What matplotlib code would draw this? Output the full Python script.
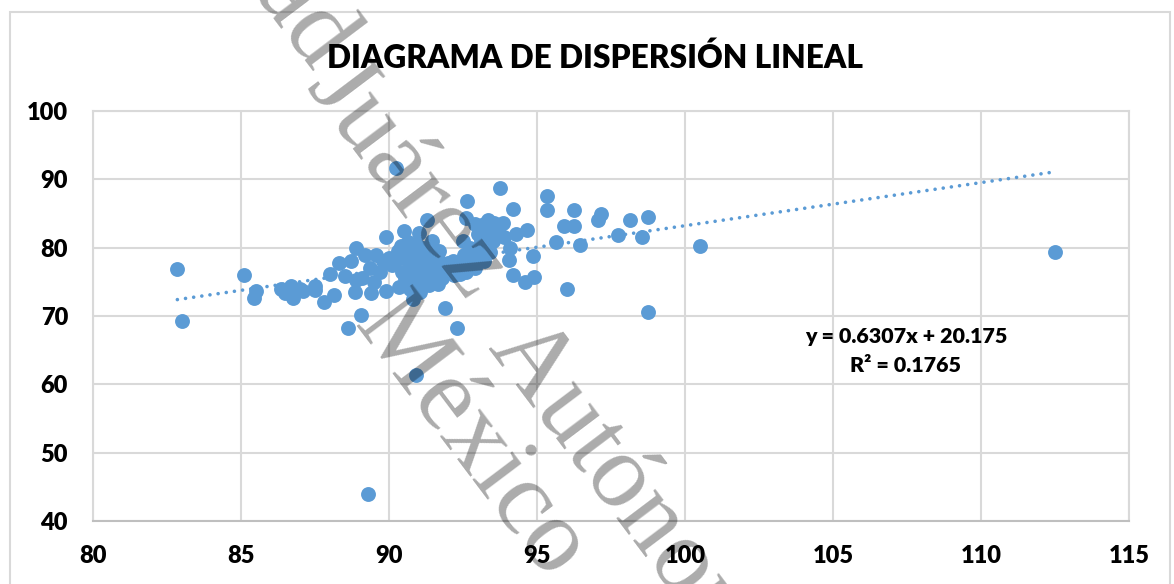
import matplotlib
matplotlib.use('Agg')
import matplotlib.pyplot as plt
from matplotlib.patches import Rectangle

# values
x_vals = [82.85, 83.0, 85.1, 85.45, 85.5, 86.35, 86.5, 86.7, 86.75, 87.0, 87.1, 87.5, 87.5, 87.8, 88.0, 88.15,
          88.3, 88.5, 88.6, 88.7, 88.9, 88.85, 88.9, 89.05, 89.1, 89.2, 89.3, 89.35, 89.4, 89.5, 89.55, 89.7,
          89.8, 89.9, 89.9, 90.0, 90.1, 90.25, 90.3, 90.35, 90.4, 90.45, 90.5, 90.55, 90.6, 90.65, 90.7, 90.75,
          90.8, 90.85, 90.9, 90.9, 90.95, 91.0, 91.0, 91.05, 91.1, 91.15, 91.2, 91.25, 91.3, 91.3, 91.35, 91.4,
          91.45, 91.5, 91.55, 91.6, 91.65, 91.7, 91.8, 91.9, 92.0, 92.05, 92.15, 92.3, 92.4, 92.5, 92.55, 92.6,
          92.65, 92.7, 92.75, 92.85, 92.9, 93.0, 93.05, 93.1, 93.2, 93.25, 93.35, 93.4, 93.45, 93.5, 93.55, 93.75,
          93.6, 93.7, 93.85, 93.9,
          94.05, 94.1, 94.2, 94.2, 94.3, 94.65, 94.6, 94.85, 94.9, 95.35, 95.35, 95.65, 95.9, 96.0, 96.25, 96.25,
          96.45, 97.05, 97.15, 97.75, 98.15, 98.55, 98.75, 98.75, 100.5, 112.5,
          90.2, 90.5, 90.8, 91.1, 91.4, 91.7, 92.0, 92.3, 92.6, 92.9, 93.2, 90.6, 91.0, 91.4, 91.8, 92.2, 92.6, 93.0]
y_vals = [76.9, 69.2, 76.0, 72.7, 73.6, 73.9, 73.3, 74.4, 72.6, 74.0, 73.6, 74.4, 73.8, 72.1, 76.1, 73.0,
          77.7, 75.8, 68.2, 78.0, 79.9, 73.5, 75.3, 70.2, 75.6, 79.0, 43.9, 77.0, 73.3, 75.0, 78.9, 76.5,
          78.0, 81.6, 73.7, 78.5, 77.5, 91.6, 79.5, 74.2, 80.2, 76.5, 82.5, 75.5, 79.0, 80.8, 74.0, 78.0,
          72.5, 77.0, 61.3, 80.5, 75.0, 82.2, 78.5, 73.5, 76.0, 80.0, 77.5, 75.0, 84.0, 78.5, 74.5, 76.5,
          81.0, 79.0, 75.5, 77.5, 74.7, 78.0, 76.2, 71.2, 77.7, 76.5, 78.0, 68.3, 76.2, 81.0, 79.0, 84.4,
          86.9, 77.5, 80.0, 78.3, 83.5, 82.0, 79.5, 81.0, 83.4, 82.5, 84.0, 79.3, 82.0, 81.0, 83.6, 88.7,
          83.2, 82.0, 83.6, 81.5,
          78.2, 79.9, 76.0, 85.7, 82.0, 82.6, 75.0, 78.8, 75.7, 87.6, 85.5, 80.8, 83.1, 74.0, 85.5, 83.2,
          80.4, 84.0, 84.9, 81.8, 84.0, 81.5, 84.5, 70.6, 80.2, 79.4,
          78.0, 78.5, 79.0, 79.0, 78.0, 79.5, 77.0, 76.8, 77.5, 77.0, 78.0, 76.0, 76.0, 75.8, 75.5, 76.0, 76.5, 78.5]
trend_x = [82.85, 112.5]
trend_y = [72.4, 91.1]
x_ticks = [80, 85, 90, 95, 100, 105, 110, 115]
y_ticks = [40, 50, 60, 70, 80, 90, 100]

blue = '#5b9bd5'
plt.rcParams['font.family'] = ['Lato', 'DejaVu Sans']

fig = plt.figure(figsize=(11.74, 5.84), dpi=100)
ax = fig.add_axes([93 / 1174, 1 - 521 / 584, (1129 - 93) / 1174, (521 - 111) / 584])

# outer chart border
fig.patches.append(Rectangle((10 / 1174, -0.05), 1160 / 1174, 1.05 - 12 / 584, transform=fig.transFigure,
                             fill=False, edgecolor='#d9d9d9', linewidth=1.5))

ax.scatter(x_vals, y_vals, s=115, color=blue, linewidths=0, zorder=3)
ax.plot(trend_x, trend_y, color=blue, linewidth=2.6, linestyle=(0, (0.01, 2.27)),
        dash_capstyle='round', zorder=3)

ax.set_xlim(80, 115)
ax.set_ylim(40, 100)
ax.set_xticks(x_ticks)
ax.set_yticks(y_ticks)
ax.grid(True, color='#d9d9d9', linewidth=1.5)
ax.set_axisbelow(True)
for side in ['top', 'left', 'right']:
    ax.spines[side].set_color('#d9d9d9')
    ax.spines[side].set_linewidth(1.5)
ax.spines['bottom'].set_color('#bfbfbf')
ax.spines['bottom'].set_linewidth(1.5)
ax.tick_params(length=0, labelsize=17, pad=17)
ax.tick_params(axis='y', pad=18)
for lab in ax.get_xticklabels() + ax.get_yticklabels():
    lab.set_fontweight('heavy')

fig.text(595 / 1174, 1 - 58 / 584, 'DIAGRAMA DE DISPERSIÓN LINEAL', ha='center', va='center',
         fontsize=22.8, fontweight='heavy', color='black')
fig.text(906 / 1174, 1 - 337 / 584, 'y = 0.6307x + 20.175', ha='center', va='center',
         fontsize=15.4, fontweight='heavy', color='black')
fig.text(906 / 1174, 1 - 366 / 584, 'R² = 0.1765', ha='center', va='center',
         fontsize=15.4, fontweight='heavy', color='black')

# watermark laid over the chart
wm = dict(family='Liberation Serif', fontsize=76, color='black', alpha=0.33, rotation=-53,
          rotation_mode='anchor', ha='left', va='baseline', zorder=10)
fig.text(220 / 1174, 1 + 47 / 584, 'dad', **wm)
fig.text(305 / 1174, 1 - 88 / 584, 'Juárez', **wm)
fig.text(487 / 1174, 1 - 348 / 584, 'Autónoma', **wm)
fig.text(353 / 1174, 1 - 325 / 584, 'México', **wm)

fig.savefig('out.png', dpi=100)
